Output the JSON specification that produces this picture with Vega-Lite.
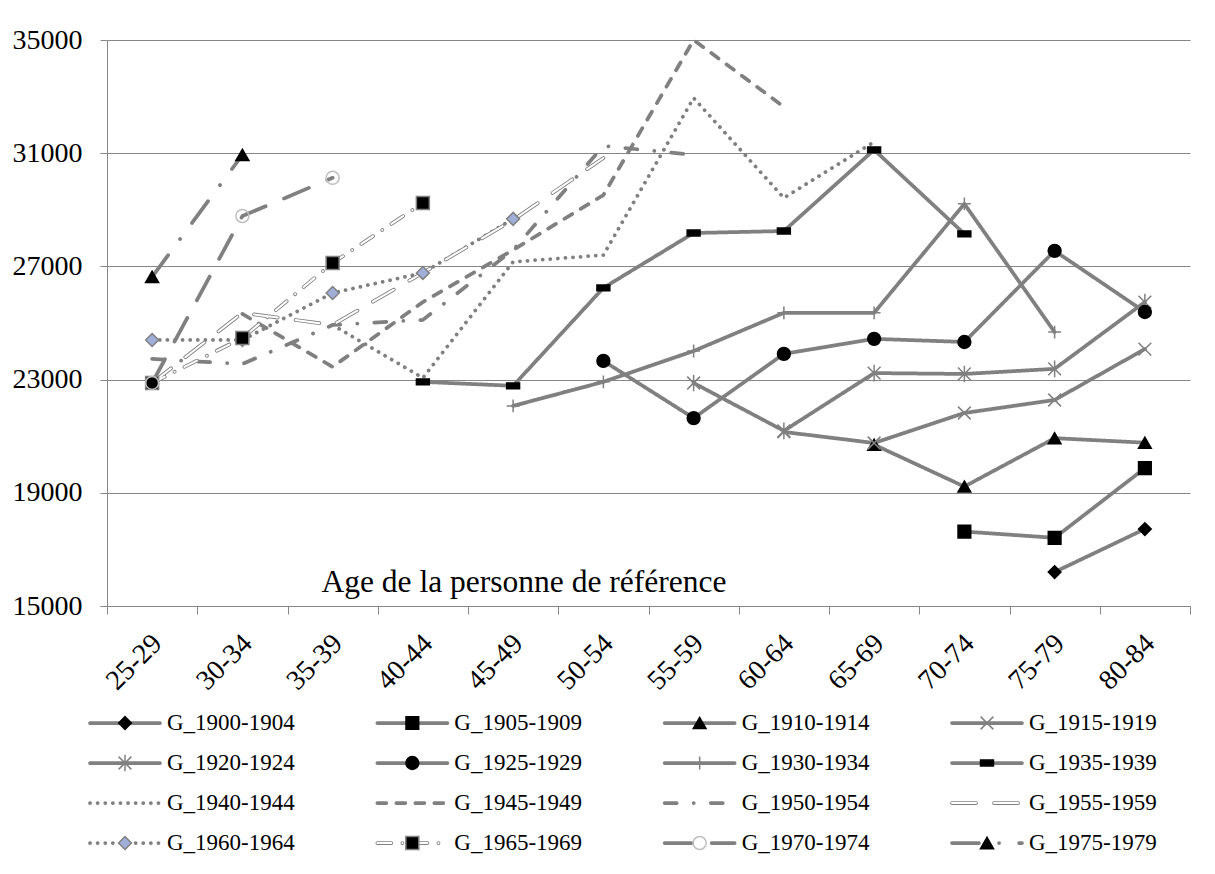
{
  "$schema": "https://vega.github.io/schema/vega-lite/v6.json",
  "width": 1083,
  "height": 566,
  "autosize": {"type": "none"},
  "padding": {"left": 107, "top": 40, "right": 25, "bottom": 268},
  "background": "white",
  "config": {
    "view": {"stroke": null},
    "font": "Liberation Serif",
    "axis": {"domainColor": "#868686", "tickColor": "#868686", "gridColor": "#868686", "labelColor": "black", "labelFont": "Liberation Serif", "titleFont": "Liberation Serif"},
    "text": {"font": "Liberation Serif"},
    "legend": {"disable": true}
  },
  "datasets": {
    "series": [
      {"gen": "G_1900-1904", "age": "75-79", "value": 16200},
      {"gen": "G_1900-1904", "age": "80-84", "value": 17720},
      {"gen": "G_1905-1909", "age": "70-74", "value": 17630},
      {"gen": "G_1905-1909", "age": "75-79", "value": 17410},
      {"gen": "G_1905-1909", "age": "80-84", "value": 19870},
      {"gen": "G_1910-1914", "age": "65-69", "value": 20700},
      {"gen": "G_1910-1914", "age": "70-74", "value": 19220},
      {"gen": "G_1910-1914", "age": "75-79", "value": 20930},
      {"gen": "G_1910-1914", "age": "80-84", "value": 20770},
      {"gen": "G_1915-1919", "age": "60-64", "value": 21150},
      {"gen": "G_1915-1919", "age": "65-69", "value": 20760},
      {"gen": "G_1915-1919", "age": "70-74", "value": 21820},
      {"gen": "G_1915-1919", "age": "75-79", "value": 22280},
      {"gen": "G_1915-1919", "age": "80-84", "value": 24080},
      {"gen": "G_1920-1924", "age": "55-59", "value": 22880},
      {"gen": "G_1920-1924", "age": "60-64", "value": 21190},
      {"gen": "G_1920-1924", "age": "65-69", "value": 23230},
      {"gen": "G_1920-1924", "age": "70-74", "value": 23200},
      {"gen": "G_1920-1924", "age": "75-79", "value": 23380},
      {"gen": "G_1920-1924", "age": "80-84", "value": 25740},
      {"gen": "G_1925-1929", "age": "50-54", "value": 23660},
      {"gen": "G_1925-1929", "age": "55-59", "value": 21640},
      {"gen": "G_1925-1929", "age": "60-64", "value": 23910},
      {"gen": "G_1925-1929", "age": "65-69", "value": 24440},
      {"gen": "G_1925-1929", "age": "70-74", "value": 24330},
      {"gen": "G_1925-1929", "age": "75-79", "value": 27550},
      {"gen": "G_1925-1929", "age": "80-84", "value": 25390},
      {"gen": "G_1930-1934", "age": "45-49", "value": 22070},
      {"gen": "G_1930-1934", "age": "50-54", "value": 22920},
      {"gen": "G_1930-1934", "age": "55-59", "value": 24010},
      {"gen": "G_1930-1934", "age": "60-64", "value": 25360},
      {"gen": "G_1930-1934", "age": "65-69", "value": 25360},
      {"gen": "G_1930-1934", "age": "70-74", "value": 29210},
      {"gen": "G_1930-1934", "age": "75-79", "value": 24680},
      {"gen": "G_1935-1939", "age": "40-44", "value": 22920},
      {"gen": "G_1935-1939", "age": "45-49", "value": 22780},
      {"gen": "G_1935-1939", "age": "50-54", "value": 26240},
      {"gen": "G_1935-1939", "age": "55-59", "value": 28180},
      {"gen": "G_1935-1939", "age": "60-64", "value": 28250},
      {"gen": "G_1935-1939", "age": "65-69", "value": 31120},
      {"gen": "G_1935-1939", "age": "70-74", "value": 28150},
      {"gen": "G_1940-1944", "age": "35-39", "value": 24930},
      {"gen": "G_1940-1944", "age": "40-44", "value": 23060},
      {"gen": "G_1940-1944", "age": "45-49", "value": 27160},
      {"gen": "G_1940-1944", "age": "50-54", "value": 27400},
      {"gen": "G_1940-1944", "age": "55-59", "value": 32950},
      {"gen": "G_1940-1944", "age": "60-64", "value": 29420},
      {"gen": "G_1940-1944", "age": "65-69", "value": 31400},
      {"gen": "G_1945-1949", "age": "30-34", "value": 25320},
      {"gen": "G_1945-1949", "age": "35-39", "value": 23450},
      {"gen": "G_1945-1949", "age": "40-44", "value": 25740},
      {"gen": "G_1945-1949", "age": "45-49", "value": 27580},
      {"gen": "G_1945-1949", "age": "50-54", "value": 29520},
      {"gen": "G_1945-1949", "age": "55-59", "value": 35000},
      {"gen": "G_1945-1949", "age": "60-64", "value": 32640},
      {"gen": "G_1950-1954", "age": "25-29", "value": 23730},
      {"gen": "G_1950-1954", "age": "30-34", "value": 23550},
      {"gen": "G_1950-1954", "age": "35-39", "value": 24930},
      {"gen": "G_1950-1954", "age": "40-44", "value": 25110},
      {"gen": "G_1950-1954", "age": "45-49", "value": 27580},
      {"gen": "G_1950-1954", "age": "50-54", "value": 31260},
      {"gen": "G_1950-1954", "age": "55-59", "value": 30940},
      {"gen": "G_1955-1959", "age": "25-29", "value": 22880},
      {"gen": "G_1955-1959", "age": "30-34", "value": 25360},
      {"gen": "G_1955-1959", "age": "35-39", "value": 24930},
      {"gen": "G_1955-1959", "age": "40-44", "value": 26770},
      {"gen": "G_1955-1959", "age": "45-49", "value": 28640},
      {"gen": "G_1955-1959", "age": "50-54", "value": 30830},
      {"gen": "G_1960-1964", "age": "25-29", "value": 24400},
      {"gen": "G_1960-1964", "age": "30-34", "value": 24400},
      {"gen": "G_1960-1964", "age": "35-39", "value": 26060},
      {"gen": "G_1960-1964", "age": "40-44", "value": 26770},
      {"gen": "G_1960-1964", "age": "45-49", "value": 28680},
      {"gen": "G_1965-1969", "age": "25-29", "value": 22880},
      {"gen": "G_1965-1969", "age": "30-34", "value": 24470},
      {"gen": "G_1965-1969", "age": "35-39", "value": 27120},
      {"gen": "G_1965-1969", "age": "40-44", "value": 29240},
      {"gen": "G_1970-1974", "age": "25-29", "value": 22880},
      {"gen": "G_1970-1974", "age": "30-34", "value": 28780},
      {"gen": "G_1970-1974", "age": "35-39", "value": 30130},
      {"gen": "G_1975-1979", "age": "25-29", "value": 26630},
      {"gen": "G_1975-1979", "age": "30-34", "value": 30940}
    ],
    "gens": [
      {"gen": "G_1900-1904"}, {"gen": "G_1905-1909"}, {"gen": "G_1910-1914"}, {"gen": "G_1915-1919"},
      {"gen": "G_1920-1924"}, {"gen": "G_1925-1929"}, {"gen": "G_1930-1934"}, {"gen": "G_1935-1939"},
      {"gen": "G_1940-1944"}, {"gen": "G_1945-1949"}, {"gen": "G_1950-1954"}, {"gen": "G_1955-1959"},
      {"gen": "G_1960-1964"}, {"gen": "G_1965-1969"}, {"gen": "G_1970-1974"}, {"gen": "G_1975-1979"}
    ]
  },
  "resolve": {"scale": {"x": "independent", "y": "independent"}},
  "layer": [
    {
      "data": {"name": "series"},
      "encoding": {
        "x": {
          "field": "age", "type": "ordinal", "bandPosition": 0.5,
          "scale": {"type": "band", "domain": ["25-29","30-34","35-39","40-44","45-49","50-54","55-59","60-64","65-69","70-74","75-79","80-84"], "paddingInner": 0, "paddingOuter": 0},
          "axis": {
            "labelAngle": -45, "labelFontSize": 28, "labelAlign": "right", "labelBaseline": "middle",
            "labelPadding": 25, "labelOffset": 5, "tickSize": 8, "tickBand": "extent", "grid": false,
            "title": "Age de la personne de référence", "titleFontSize": 31.5, "titleFontWeight": "normal",
            "titleX": 214, "titleY": -15, "titleAlign": "left", "titleAnchor": "start", "titleBaseline": "alphabetic",
            "titleColor": "black", "labelOverlap": false
          }
        },
        "y": {
          "field": "value", "type": "quantitative",
          "scale": {"domain": [15000, 35000], "nice": false, "zero": false},
          "axis": {"values": [15000, 19000, 23000, 27000, 31000, 35000], "format": "d", "labelFontSize": 28, "tickSize": 7, "labelPadding": 18, "grid": true, "gridWidth": 1, "title": null}
        }
      },
      "layer": [
        {
          "mark": {"type": "line", "color": "#808080", "strokeCap": "round", "strokeJoin": "round"},
          "encoding": {
            "strokeDash": {"field": "gen", "type": "nominal", "legend": null,
              "scale": {"domain": ["G_1900-1904","G_1905-1909","G_1910-1914","G_1915-1919","G_1920-1924","G_1925-1929","G_1930-1934","G_1935-1939","G_1940-1944","G_1945-1949","G_1950-1954","G_1955-1959","G_1960-1964","G_1965-1969","G_1970-1974","G_1975-1979"],
                "range": [[1,0],[1,0],[1,0],[1,0],[1,0],[1,0],[1,0],[1,0],[0.1,7.5],[9,10],[12,17,0.1,17],[24,18],[0.1,7.5],[14,11,0.1,11],[27,20],[27,20,0.1,20]]}},
            "strokeWidth": {"field": "gen", "type": "ordinal", "legend": null,
              "scale": {"domain": ["G_1900-1904","G_1905-1909","G_1910-1914","G_1915-1919","G_1920-1924","G_1925-1929","G_1930-1934","G_1935-1939","G_1940-1944","G_1945-1949","G_1950-1954","G_1955-1959","G_1960-1964","G_1965-1969","G_1970-1974","G_1975-1979"],
                "range": [3.75,3.75,3.75,3.75,3.75,3.75,3.75,3.75,3.2,3.75,3.75,5.2,3.2,5.2,3.75,3.75]}}
          }
        },
        {
          "transform": [{"filter": {"field": "gen", "oneOf": ["G_1955-1959", "G_1965-1969"]}}],
          "mark": {"type": "line", "color": "white", "strokeWidth": 2, "strokeCap": "round", "strokeJoin": "round"},
          "encoding": {
            "strokeDash": {"field": "gen", "type": "nominal", "legend": null}
          }
        },
        {
          "transform": [{"filter": {"not": {"field": "gen", "oneOf": ["G_1940-1944", "G_1945-1949", "G_1950-1954", "G_1955-1959"]}}}],
          "mark": {"type": "point", "filled": true, "opacity": 1, "strokeWidth": 1.5},
          "encoding": {
            "shape": {"field": "gen", "type": "nominal", "legend": null,
              "scale": {"domain": ["G_1900-1904","G_1905-1909","G_1910-1914","G_1915-1919","G_1920-1924","G_1925-1929","G_1930-1934","G_1935-1939","G_1960-1964","G_1965-1969","G_1970-1974","G_1975-1979"],
                "range": ["diamond","square","triangle-up","M-1,-1L1,1M-1,1L1,-1","M-1,-1L1,1M-1,1L1,-1M0,-1.3L0,1.3","circle","M-1,0L1,0M0,-1L0,1","M-1,-0.45L1,-0.45L1,0.45L-1,0.45Z","diamond","square","circle","triangle-up"]}},
            "fill": {"field": "gen", "type": "nominal", "legend": null,
              "scale": {"domain": ["G_1900-1904","G_1905-1909","G_1910-1914","G_1915-1919","G_1920-1924","G_1925-1929","G_1930-1934","G_1935-1939","G_1960-1964","G_1965-1969","G_1970-1974","G_1975-1979"],
                "range": ["#000000","#000000","#000000","transparent","transparent","#000000","transparent","#000000","#A0AFD8","#000000","transparent","#000000"]}},
            "stroke": {"field": "gen", "type": "nominal", "legend": null,
              "scale": {"domain": ["G_1900-1904","G_1905-1909","G_1910-1914","G_1915-1919","G_1920-1924","G_1925-1929","G_1930-1934","G_1935-1939","G_1960-1964","G_1965-1969","G_1970-1974","G_1975-1979"],
                "range": ["#000000","#000000","#000000","#808080","#808080","#000000","#808080","#000000","#808080","#808080","#BFBFBF","#000000"]}},
            "size": {"field": "gen", "type": "ordinal", "legend": null,
              "scale": {"domain": ["G_1900-1904","G_1905-1909","G_1910-1914","G_1915-1919","G_1920-1924","G_1925-1929","G_1930-1934","G_1935-1939","G_1960-1964","G_1965-1969","G_1970-1974","G_1975-1979"],
                "range": [160,170,170,170,200,170,130,70,320,340,190,210]}}
          }
        }
      ]
    },
    {
      "data": {"name": "gens"},
      "transform": [
        {"window": [{"op": "row_number", "as": "idx"}]},
        {"calculate": "(datum.idx - 1) % 4", "as": "col"},
        {"calculate": "floor((datum.idx - 1) / 4)", "as": "row"}
      ],
      "encoding": {
        "x": {"field": "col", "type": "quantitative", "scale": {"domain": [0, 3], "range": [-17, 845], "nice": false, "zero": false}, "axis": null},
        "y": {"field": "row", "type": "quantitative", "scale": {"domain": [0, 3], "range": [683, 803], "nice": false, "zero": false}, "axis": null}
      },
      "layer": [
        {
          "mark": {"type": "rule", "x2Offset": 70, "color": "#808080", "strokeCap": "round"},
          "encoding": {
            "x2": {"field": "col"},
            "strokeDash": {"field": "gen", "type": "nominal", "legend": null},
            "strokeWidth": {"field": "gen", "type": "ordinal", "legend": null}
          }
        },
        {
          "transform": [{"filter": {"field": "gen", "oneOf": ["G_1955-1959", "G_1965-1969"]}}],
          "mark": {"type": "rule", "x2Offset": 70, "color": "white", "strokeWidth": 2, "strokeCap": "round"},
          "encoding": {
            "x2": {"field": "col"},
            "strokeDash": {"field": "gen", "type": "nominal", "legend": null}
          }
        },
        {
          "transform": [{"filter": {"not": {"field": "gen", "oneOf": ["G_1940-1944", "G_1945-1949", "G_1950-1954", "G_1955-1959"]}}}],
          "mark": {"type": "point", "filled": true, "opacity": 1, "strokeWidth": 1.5, "xOffset": 35},
          "encoding": {
            "shape": {"field": "gen", "type": "nominal", "legend": null},
            "fill": {"field": "gen", "type": "nominal", "legend": null},
            "stroke": {"field": "gen", "type": "nominal", "legend": null},
            "size": {"field": "gen", "type": "ordinal", "legend": null}
          }
        },
        {
          "mark": {"type": "text", "align": "left", "baseline": "middle", "dx": 77, "fontSize": 23, "font": "Liberation Serif", "color": "black"},
          "encoding": {"text": {"field": "gen", "type": "nominal"}}
        }
      ]
    }
  ]
}
